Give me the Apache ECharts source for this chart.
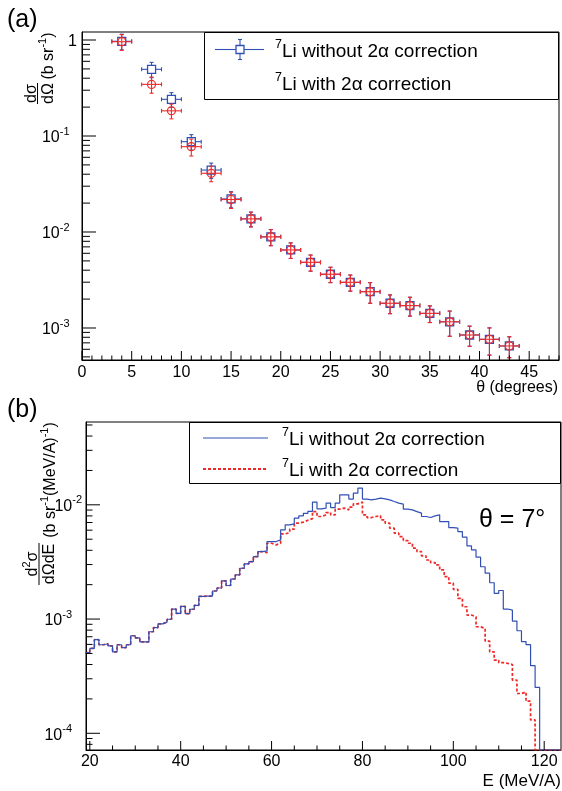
<!DOCTYPE html>
<html>
<head>
<meta charset="utf-8">
<script src="https://cdn.jsdelivr.net/npm/echarts@6/dist/echarts.min.js"></script>
<style>html,body{margin:0;padding:0;background:#fff}#c{width:562px;height:791px}</style>
</head>
<body>
<div id="c"></div>
<script>
// ================= DATA =================
// Panel (a): angular distribution dσ/dΩ (b/sr) vs θ (degrees)
const thetaDeg = [4, 7, 9, 11, 13, 15, 17, 19, 21, 23, 25, 27, 29, 31, 33, 35, 37, 39, 41, 43];
const thetaErr = [1, 1, 1, 1, 1, 1, 1, 1, 1, 1, 1, 1, 1, 1, 1, 1, 1, 1, 1, 1];
const xsNoCorr = [0.97, 0.495, 0.241, 0.0873, 0.0442, 0.0221, 0.0137, 0.0089, 0.0065, 0.00483,
                  0.00363, 0.00299, 0.00239, 0.00181, 0.00171, 0.00142, 0.00116, 0.000845, 0.000762, 0.00065];
const xsNoCorrErr = [0.18, 0.09, 0.042, 0.016, 0.008, 0.0042, 0.0024, 0.0017, 0.0012, 0.00092,
                     0.00066, 0.00057, 0.00058, 0.0004, 0.00038, 0.00028, 0.00034, 0.0002, 0.00024, 0.00016];
const xsCorr = [0.96, 0.345, 0.183, 0.0774, 0.0409, 0.0218, 0.0137, 0.0089, 0.0065, 0.00483,
                0.00363, 0.00299, 0.00239, 0.00181, 0.00171, 0.00142, 0.00116, 0.000845, 0.000762, 0.00065];
const xsCorrErr = [0.18, 0.066, 0.032, 0.0155, 0.0075, 0.0042, 0.0024, 0.0017, 0.0012, 0.00092,
                   0.00066, 0.00057, 0.00058, 0.0004, 0.00038, 0.00028, 0.00034, 0.0002, 0.00024, 0.00016];
const thetaTickLabels = [0, 5, 10, 15, 20, 25, 30, 35, 40, 45];
const xsTickLabels = [1, 0.1, 0.01, 0.001];

// Panel (b): energy spectrum d2σ/dΩdE, bins of 1 MeV/A starting at 19 MeV/A
const eFirstBinLow = 19;
const eBinWidth = 1;
const specNoCorr = [
  5.08e-4, 5.53e-4, 6.60e-4, 5.96e-4, 6.08e-4, 5.82e-4, 5.17e-4, 5.96e-4, 5.62e-4, 5.96e-4,   // 19-28
  7.14e-4, 6.84e-4, 6.32e-4, 6.32e-4, 7.74e-4, 8.42e-4, 9.08e-4, 9.41e-4, 9.96e-4, 1.224e-3,  // 29-38
  1.122e-3, 1.292e-3, 1.115e-3, 1.219e-3, 1.319e-3, 1.581e-3, 1.591e-3, 1.59e-3, 1.76e-3, 1.87e-3, // 39-48
  2.163e-3, 1.967e-3, 2.243e-3, 2.432e-3, 2.785e-3, 3.037e-3, 3.18e-3, 3.52e-3, 3.89e-3, 3.95e-3, // 49-58
  4.77e-3, 4.77e-3, 4.93e-3, 6.04e-3, 6.68e-3, 6.81e-3, 7.64e-3, 8.01e-3, 8.42e-3, 8.77e-3,   // 59-68
  1.056e-2, 9.22e-3, 9.36e-3, 1.035e-2, 9.47e-3, 1.035e-2, 1.224e-2, 1.224e-2, 1.122e-2, 1.266e-2, // 69-78
  1.401e-2, 1.122e-2, 1.106e-2, 1.122e-2, 1.145e-2, 1.129e-2, 1.106e-2, 1.069e-2, 1.035e-2, 1.014e-2, // 79-88
  9.17e-3, 9.04e-3, 8.73e-3, 8.46e-3, 7.90e-3, 7.74e-3, 8.01e-3, 8.17e-3, 7.14e-3, 7.14e-3,   // 89-98
  6.32e-3, 6.25e-3, 5.83e-3, 5.21e-3, 4.37e-3, 4.03e-3, 3.48e-3, 2.87e-3, 2.52e-3, 2.08e-3,   // 99-108
  1.68e-3, 1.778e-3, 1.224e-3, 1.199e-3, 9.60e-4, 7.90e-4, 6.35e-4, 5.97e-4, 3.91e-4, 2.52e-4  // 109-118
];
const specCorr = [
  5.08e-4, 5.53e-4, 6.60e-4, 5.96e-4, 6.08e-4, 5.82e-4, 5.17e-4, 5.96e-4, 5.62e-4, 5.96e-4,   // 19-28
  7.14e-4, 6.84e-4, 6.32e-4, 6.32e-4, 7.74e-4, 8.42e-4, 9.08e-4, 9.41e-4, 9.96e-4, 1.224e-3,  // 29-38
  1.122e-3, 1.292e-3, 1.115e-3, 1.219e-3, 1.319e-3, 1.581e-3, 1.591e-3, 1.59e-3, 1.76e-3, 1.87e-3, // 39-48
  2.163e-3, 1.967e-3, 2.243e-3, 2.432e-3, 2.785e-3, 3.037e-3, 3.18e-3, 3.52e-3, 3.89e-3, 3.82e-3, // 49-58
  4.61e-3, 4.46e-3, 4.61e-3, 5.57e-3, 5.71e-3, 6.12e-3, 6.91e-3, 7.05e-3, 7.34e-3, 7.57e-3,   // 59-68
  8.73e-3, 7.90e-3, 8.17e-3, 8.56e-3, 8.17e-3, 9.17e-3, 9.36e-3, 9.04e-3, 9.55e-3, 1.02e-2,   // 69-78
  1.056e-2, 8.17e-3, 7.74e-3, 7.90e-3, 8.01e-3, 7.39e-3, 6.91e-3, 6.25e-3, 5.65e-3, 5.27e-3,  // 79-88
  4.86e-3, 4.61e-3, 4.17e-3, 3.89e-3, 3.57e-3, 3.29e-3, 3.12e-3, 2.98e-3, 2.69e-3, 2.35e-3,   // 89-98
  2.06e-3, 1.82e-3, 1.52e-3, 1.282e-3, 1.084e-3, 1.047e-3, 8.56e-4, 8.29e-4, 6.41e-4, 5.17e-4, // 99-108
  4.37e-4, 4.15e-4, 4.09e-4, 4.00e-4, 2.92e-4, 2.23e-4, 2.30e-4, 1.91e-4, 1.31e-4             // 109-117
];
const eTickLabels = [20, 40, 60, 80, 100, 120];
const specTickLabels = [0.01, 0.001, 0.0001];

// ================= STYLE / LAYOUT =================
const FONT = "'Liberation Sans', Arial, Helvetica, sans-serif";
const BLUE = '#3150b4';
const RED = '#f02828';
const A_X = [0, 48], A_Y = [4.64e-4, 1.212];
const B_X = [19.16, 123.7], B_Y = [7.14e-5, 0.0531];

function logTicks(min, max) {
  const out = [];
  for (let n = Math.floor(Math.log10(min)); n <= Math.ceil(Math.log10(max)); n++) {
    for (let m = 1; m <= 9; m++) {
      const v = m * Math.pow(10, n);
      if (v >= min * 0.9999 && v <= max * 1.0001) out.push([v, m === 1 ? 1 : 0]);
    }
  }
  return out;
}
function linTicks(min, max, minor, major) {
  const out = [];
  for (let i = Math.ceil(min / minor); i * minor <= max + 1e-9; i++) {
    const v = i * minor;
    out.push([v, Math.abs(v / major - Math.round(v / major)) < 1e-9 ? 1 : 0]);
  }
  return out;
}

function xTickSeries(ai, yMin, ticks, majLen, minLen) {
  return {
    type: 'custom', xAxisIndex: ai, yAxisIndex: ai, silent: true, clip: false, z: 6,
    data: ticks.map(t => [t[0], yMin, t[1]]),
    renderItem: (p, api) => {
      const c = api.coord([api.value(0), api.value(1)]);
      const L = api.value(2) ? majLen : minLen;
      return { type: 'line', shape: { x1: c[0], y1: c[1], x2: c[0], y2: c[1] - L }, style: { stroke: '#000', lineWidth: 1 } };
    }
  };
}
function yTickSeries(ai, xMin, ticks, majLen, minLen) {
  return {
    type: 'custom', xAxisIndex: ai, yAxisIndex: ai, silent: true, clip: false, z: 6,
    data: ticks.map(t => [xMin, t[0], t[1]]),
    renderItem: (p, api) => {
      const c = api.coord([api.value(0), api.value(1)]);
      const L = api.value(2) ? majLen : minLen;
      return { type: 'line', shape: { x1: c[0], y1: c[1], x2: c[0] + L, y2: c[1] }, style: { stroke: '#000', lineWidth: 1 } };
    }
  };
}
function xLabelSeries(ai, yMin, vals, dy, fs) {
  return {
    type: 'custom', xAxisIndex: ai, yAxisIndex: ai, silent: true, clip: false, z: 6,
    data: vals.map(v => [v, yMin]),
    renderItem: (p, api) => {
      const c = api.coord([api.value(0), api.value(1)]);
      return { type: 'text', x: c[0], y: c[1] + dy,
        style: { text: String(api.value(0)), fontSize: fs, fontFamily: FONT, fill: '#000',
          align: 'center', verticalAlign: 'middle', textAlign: 'center', textVerticalAlign: 'middle' } };
    }
  };
}
const supRich = {
  b: { fontSize: 16, fontFamily: FONT, lineHeight: 20, verticalAlign: 'bottom', fill: '#000', color: '#000' },
  s: { fontSize: 11, fontFamily: FONT, lineHeight: 8, verticalAlign: 'top', fill: '#000', color: '#000' }
};
function yLabelSeries(ai, xMin, vals, gapFn) {
  return {
    type: 'custom', xAxisIndex: ai, yAxisIndex: ai, silent: true, clip: false, z: 6,
    data: vals.map(v => [xMin, v]),
    renderItem: (p, api) => {
      const v = api.value(1);
      const c = api.coord([api.value(0), v]);
      const n = Math.round(Math.log10(v));
      const txt = n === 0 ? '{b|1}' : '{b|10}{s|' + n + '}';
      return { type: 'text', x: c[0] - gapFn(n), y: c[1],
        style: { text: txt, rich: supRich, align: 'right', verticalAlign: 'middle', textAlign: 'right', textVerticalAlign: 'middle' } };
    }
  };
}
function pointSeries(xs, ys, exs, eys, kind, color, z) {
  return {
    type: 'custom', xAxisIndex: 0, yAxisIndex: 0, silent: true, clip: true, z: z,
    data: xs.map((x, i) => [x, ys[i], exs[i], eys[i]]),
    renderItem: (p, api) => {
      const x = api.value(0), y = api.value(1), ex = api.value(2), ey = api.value(3);
      const c = api.coord([x, y]), l = api.coord([x - ex, y]), r = api.coord([x + ex, y]);
      const t = api.coord([x, y + ey]), b = api.coord([x, y - ey]);
      const h = 4, cap = 2, gap = kind === 'square' ? h : 0;
      const st = { stroke: color, lineWidth: 1.1, fill: 'none' };
      const ln = (x1, y1, x2, y2) => ({ type: 'line', shape: { x1, y1, x2, y2 }, style: st });
      const ch = [
        ln(l[0], c[1], c[0] - gap, c[1]), ln(c[0] + gap, c[1], r[0], c[1]),
        ln(c[0], t[1], c[0], c[1] - gap), ln(c[0], c[1] + gap, c[0], b[1]),
        ln(l[0], c[1] - cap, l[0], c[1] + cap), ln(r[0], c[1] - cap, r[0], c[1] + cap),
        ln(c[0] - cap, t[1], c[0] + cap, t[1]), ln(c[0] - cap, b[1], c[0] + cap, b[1])
      ];
      if (kind === 'square') ch.push({ type: 'rect', shape: { x: c[0] - h, y: c[1] - h, width: 2 * h, height: 2 * h }, style: { stroke: color, lineWidth: 1.3, fill: 'none' } });
      else ch.push({ type: 'circle', shape: { cx: c[0], cy: c[1], r: h }, style: { stroke: color, lineWidth: 1.2, fill: 'none' } });
      return { type: 'group', children: ch };
    }
  };
}
// histogram outline: zero bins (beyond the last one) drawn at the bottom of the frame, as ROOT does
function stepPoints(vals, low, width, yFloor, xEnd) {
  const pts = [];
  vals.forEach((v, i) => { const a = low + i * width; pts.push([a, v], [a + width, v]); });
  const last = low + vals.length * width;
  pts.push([last, yFloor], [xEnd, yFloor]);
  return pts;
}

// ---------- graphic helpers ----------
const rich16 = {
  b: { fontSize: 16, fontFamily: FONT, lineHeight: 20, verticalAlign: 'bottom', fill: '#000' },
  s: { fontSize: 11, fontFamily: FONT, lineHeight: 9, verticalAlign: 'top', fill: '#000' }
};
const rich19 = {
  b: { fontSize: 19, fontFamily: FONT, lineHeight: 23, verticalAlign: 'bottom', fill: '#000' },
  s: { fontSize: 12.5, fontFamily: FONT, lineHeight: 10, verticalAlign: 'top', fill: '#000' }
};
function gtext(text, x, y, opt) {
  opt = opt || {};
  return {
    type: 'text', x: x, y: y, rotation: opt.rot || 0, z: 100,
    style: {
      text: text, rich: opt.rich, fontSize: opt.fs || 16, fontFamily: FONT, fill: '#000',
      align: opt.align || 'left', verticalAlign: 'middle', textAlign: opt.align || 'left', textVerticalAlign: 'middle'
    }
  };
}
function gline(x1, y1, x2, y2, color, w, dash) {
  return { type: 'line', z: 100, shape: { x1, y1, x2, y2 }, style: { stroke: color, lineWidth: w || 1, lineDash: dash || null } };
}
const R90 = Math.PI / 2;

const graphics = [
  // panel labels
  gtext('(a)', 7, 20, { fs: 25 }),
  gtext('(b)', 7, 410, { fs: 25 }),
  // panel (a) y title
  gtext('{b|(b sr}{s|-1}{b|)}', 47, 56, { rot: R90, align: 'center', rich: rich16 }),
  gtext('{b|dσ}', 30, 93.5, { rot: R90, align: 'center', rich: rich16 }),
  gline(37.5, 83, 37.5, 104, '#000', 1),
  gtext('{b|dΩ}', 47, 93.5, { rot: R90, align: 'center', rich: rich16 }),
  // panel (a) x title
  gtext('θ (degrees)', 558, 388, { fs: 16, align: 'right' }),
  // panel (a) legend
  { type: 'rect', z: 99, shape: { x: 204.5, y: 32.5, width: 354, height: 67 }, style: { fill: '#fff', stroke: '#000', lineWidth: 1 } },
  gline(215, 49.5, 236, 49.5, BLUE, 1.1), gline(244, 49.5, 264, 49.5, BLUE, 1.1),
  gline(240, 39.5, 240, 45.5, BLUE, 1.1), gline(240, 53.5, 240, 59.5, BLUE, 1.1),
  gline(238, 39.5, 242, 39.5, BLUE, 1.1), gline(238, 59.5, 242, 59.5, BLUE, 1.1),
  { type: 'rect', z: 100, shape: { x: 236, y: 45.5, width: 8, height: 8 }, style: { fill: 'none', stroke: BLUE, lineWidth: 1.3 } },
  gtext('{s|7}{b|Li without 2α correction}', 275, 49.5, { rich: rich19 }),
  gtext('{s|7}{b|Li with 2α correction}', 275, 83, { rich: rich19 }),
  // panel (b) y title
  gtext('{b|(b sr}{s|-1}{b|(MeV/A)}{s|-1}{b|)}', 49, 480, { rot: R90, align: 'center', rich: rich16 }),
  gtext('{b|d}{s|2}{b|σ}', 31, 564, { rot: R90, align: 'center', rich: rich16 }),
  gline(39, 543, 39, 585, '#000', 1),
  gtext('{b|dΩdE}', 48, 564, { rot: R90, align: 'center', rich: rich16 }),
  // panel (b) x title
  gtext('E (MeV/A)', 561, 781, { fs: 17, align: 'right' }),
  // panel (b) legend
  { type: 'rect', z: 99, shape: { x: 189.5, y: 422.5, width: 371, height: 61 }, style: { fill: '#fff', stroke: '#000', lineWidth: 1 } },
  gline(203, 438, 268, 438, BLUE, 1.2),
  gline(203, 469, 268, 469, RED, 1.8, [3, 2]),
  gtext('{s|7}{b|Li without 2α correction}', 282, 438, { rich: rich19 }),
  gtext('{s|7}{b|Li with 2α correction}', 282, 469, { rich: rich19 }),
  // angle annotation
  gtext('θ = 7°', 479, 520, { fs: 25 })
];

const axisCommon = {
  axisTick: { show: false }, axisLabel: { show: false }, splitLine: { show: false },
  axisLine: { show: true, onZero: false, lineStyle: { color: '#000', width: 1 } }
};

const option = {
  animation: false,
  backgroundColor: '#fff',
  grid: [
    { left: 82, top: 32, width: 477, height: 328, show: true, borderColor: '#000', borderWidth: 1, backgroundColor: 'transparent' },
    { left: 86, top: 422, width: 475, height: 328, show: true, borderColor: '#000', borderWidth: 1, backgroundColor: 'transparent' }
  ],
  xAxis: [
    Object.assign({ type: 'value', gridIndex: 0, min: A_X[0], max: A_X[1] }, axisCommon),
    Object.assign({ type: 'value', gridIndex: 1, min: B_X[0], max: B_X[1] }, axisCommon)
  ],
  yAxis: [
    Object.assign({ type: 'log', logBase: 10, gridIndex: 0, min: A_Y[0], max: A_Y[1] }, axisCommon),
    Object.assign({ type: 'log', logBase: 10, gridIndex: 1, min: B_Y[0], max: B_Y[1] }, axisCommon)
  ],
  series: [
    // panel (a) points
    pointSeries(thetaDeg, xsNoCorr, thetaErr, xsNoCorrErr, 'square', BLUE, 3),
    pointSeries(thetaDeg, xsCorr, thetaErr, xsCorrErr, 'circle', RED, 4),
    // panel (b) histograms
    {
      type: 'line', xAxisIndex: 1, yAxisIndex: 1, silent: true, clip: true, z: 3,
      data: stepPoints(specCorr, eFirstBinLow, eBinWidth, B_Y[0], B_X[1]),
      showSymbol: false, symbol: 'none',
      lineStyle: { color: RED, width: 1.7, type: [3, 2], cap: 'butt' }
    },
    {
      type: 'line', xAxisIndex: 1, yAxisIndex: 1, silent: true, clip: true, z: 4,
      data: stepPoints(specNoCorr, eFirstBinLow, eBinWidth, B_Y[0], B_X[1]),
      showSymbol: false, symbol: 'none',
      lineStyle: { color: BLUE, width: 1.2 }
    },
    // ticks & labels
    xTickSeries(0, A_Y[0], linTicks(A_X[0], A_X[1], 1, 5), 9, 4.5),
    yTickSeries(0, A_X[0], logTicks(A_Y[0], A_Y[1]), 14, 8),
    xTickSeries(1, B_Y[0], linTicks(B_X[0], B_X[1], 5, 20), 9, 4.5),
    yTickSeries(1, B_X[0], logTicks(B_Y[0], B_Y[1]), 14, 6.5),
    xLabelSeries(0, A_Y[0], thetaTickLabels, 12.5, 16),
    xLabelSeries(1, B_Y[0], eTickLabels, 11.5, 16),
    yLabelSeries(0, A_X[0], xsTickLabels, n => (n === 0 ? 5 : 12.5)),
    yLabelSeries(1, B_X[0], specTickLabels, n => (n === -2 ? 4 : 14))
  ],
  graphic: { elements: graphics }
};

const chart = echarts.init(document.getElementById('c'), null, { renderer: 'canvas', width: 562, height: 791 });
chart.setOption(option);
</script>
</body>
</html>
